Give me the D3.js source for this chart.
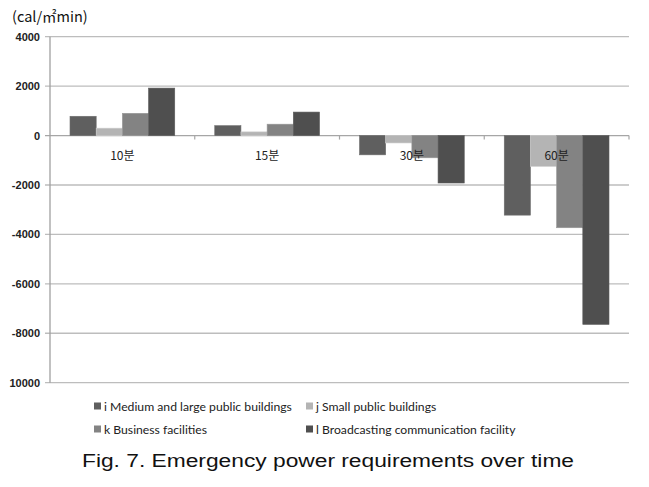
<!DOCTYPE html>
<html>
<head>
<meta charset="utf-8">
<script src="https://cdn.jsdelivr.net/npm/d3@7"></script>
<style>
  body { margin: 0; background: #fff; }
  svg { display: block; }
</style>
</head>
<body>
<div id="chart"></div>
<script>
var width = 649,
    height = 487

// data
var categories = ['10분', '15분', '30분', '60분']
var seriesNames = ['i Medium and large public buildings', 'j Small public buildings',
                   'k Business facilities', 'l Broadcasting communication facility']
var seriesI = [780, 400, -780, -3220]
var seriesJ = [300, 150, -300, -1250]
var seriesK = [900, 460, -900, -3730]
var seriesL = [1920, 950, -1920, -7640]
var yTicks = [4000, 2000, 0, -2000, -4000, -6000, -8000, -10000]
var yTickLabels = ['4000', '2000', '0', '-2000', '-4000', '-6000', '-8000', '10000']

var colors = ['#5f5f5f', '#b4b4b4', '#838383', '#4f4f4f']
var allSeries = [seriesI, seriesJ, seriesK, seriesL]

var svg = d3.select('#chart').append('svg')
    .attr('width', width)
    .attr('height', height)

var y = d3.scaleLinear().domain([-10000, 4000]).range([382.7, 36.7])
var x0 = d3.scaleBand().domain(categories).range([50, 629]).padding(0)
var x1 = d3.scaleBand().domain(d3.range(4)).range([20, x0.bandwidth() - 20])

// gridlines
svg.append('g').selectAll('line')
  .data(yTicks)
  .join('line')
    .attr('x1', 45).attr('x2', 629)
    .attr('y1', function(d) { return y(d) }).attr('y2', function(d) { return y(d) })
    .attr('stroke', function(d) { return d === 0 ? '#a6a6a6' : '#bdbdbd' })
    .attr('stroke-width', 1.3)

// y axis line
svg.append('line')
    .attr('x1', 50).attr('x2', 50)
    .attr('y1', y(4000)).attr('y2', y(-10000))
    .attr('stroke', '#a0a0a0').attr('stroke-width', 1.3)

// category ticks on the zero line
svg.append('g').selectAll('line')
  .data(categories)
  .join('line')
    .attr('x1', function(d) { return x0(d) + x0.bandwidth() })
    .attr('x2', function(d) { return x0(d) + x0.bandwidth() })
    .attr('y1', y(0)).attr('y2', y(0) + 4)
    .attr('stroke', '#a6a6a6').attr('stroke-width', 1.2)

// bars
var groups = svg.append('g').selectAll('g')
  .data(categories)
  .join('g')
    .attr('transform', function(d) { return 'translate(' + x0(d) + ',0)' })

groups.selectAll('rect')
  .data(function(d, ci) { return allSeries.map(function(s, si) { return {si: si, v: s[ci]} }) })
  .join('rect')
    .attr('x', function(d) { return x1(d.si) })
    .attr('width', x1.bandwidth())
    .attr('y', function(d) { return y(Math.max(0, d.v)) })
    .attr('height', function(d) { return Math.abs(y(d.v) - y(0)) })
    .attr('fill', function(d) { return colors[d.si] })
    .attr('stroke', function(d) { return d3.color(colors[d.si]).brighter(0.4) })
    .attr('stroke-width', 0.6)

// category labels (drawn over the bars)
svg.append('g').selectAll('text')
  .data(categories)
  .join('text')
    .attr('x', function(d) { return x0(d) + x0.bandwidth() / 2 })
    .attr('y', y(0) + 24)
    .attr('text-anchor', 'middle')
    .attr('font-family', 'Noto Sans CJK KR, sans-serif')
    .attr('font-size', 12)
    .attr('fill', '#222')
    .text(function(d) { return d })

// y tick labels
svg.append('g').selectAll('text')
  .data(yTicks)
  .join('text')
    .attr('x', 40)
    .attr('y', function(d) { return y(d) + 4 })
    .attr('text-anchor', 'end')
    .attr('font-family', 'Liberation Sans, Arial, sans-serif')
    .attr('font-size', 11)
    .attr('font-weight', 'bold')
    .attr('fill', '#222')
    .text(function(d, i) { return yTickLabels[i] })

// unit label
svg.append('text')
    .attr('x', 12).attr('y', 22)
    .attr('font-family', 'Noto Sans CJK KR, sans-serif')
    .attr('font-size', 14.5)
    .attr('fill', '#111')
    .text('(cal/㎡min)')

// legend
var legendPos = [[94, 406], [306, 406], [94, 429], [306, 429]]
var legend = svg.append('g').selectAll('g')
  .data(seriesNames)
  .join('g')
    .attr('transform', function(d, i) { return 'translate(' + legendPos[i][0] + ',' + legendPos[i][1] + ')' })
legend.append('rect')
    .attr('x', 0).attr('y', -3.5)
    .attr('width', 7).attr('height', 7)
    .attr('fill', function(d, i) { return colors[i] })
legend.append('text')
    .attr('x', 10).attr('y', 4.5)
    .attr('font-family', 'Lato, sans-serif')
    .attr('font-size', 12.2)
    .attr('fill', '#222')
    .text(function(d) { return d })

// caption
svg.append('text')
    .attr('x', 82).attr('y', 467)
    .attr('font-family', 'Liberation Sans, Arial, sans-serif')
    .attr('font-size', 18)
    .attr('fill', '#111')
    .attr('textLength', 492)
    .attr('lengthAdjust', 'spacingAndGlyphs')
    .text('Fig. 7. Emergency power requirements over time')
</script>
</body>
</html>
